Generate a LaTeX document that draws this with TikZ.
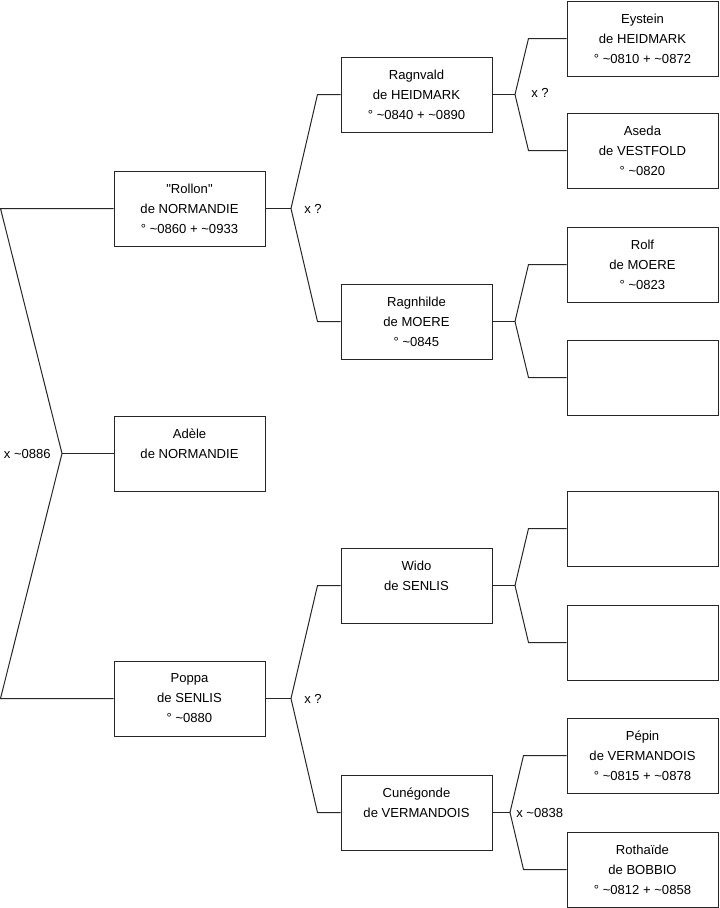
\documentclass[tikz,border=0pt]{standalone}
\usepackage{fontspec}
\setmainfont{Liberation Sans}
\begin{document}
\begin{tikzpicture}[x=0.75pt,y=-0.75pt,
  person/.style={draw=black!85, line width=0.75pt, fill=white, inner sep=0pt,
    minimum width=113.25pt, minimum height=56.25pt, align=center,
    font=\fontsize{9.8}{15}\selectfont},
  link/.style={draw=black!85, line width=0.75pt},
  lbl/.style={inner sep=0pt, font=\fontsize{9.8}{12}\selectfont}]
\useasboundingbox (0,0) rectangle (719,908);
% column 1
\node[person] (rollon) at (189.5,208.5) {\textquotedbl Rollon\textquotedbl\\de NORMANDIE\\° \textasciitilde0860 + \textasciitilde0933};
\node[person] (adele) at (189.5,453.5) {Adèle\\de NORMANDIE\\\phantom{X}};
\node[person] (poppa) at (189.5,698.5) {Poppa\\de SENLIS\\° \textasciitilde0880};
% column 2
\node[person] (ragnvald) at (416.5,94.5) {Ragnvald\\de HEIDMARK\\° \textasciitilde0840 + \textasciitilde0890};
\node[person] (ragnhilde) at (416.5,321.5) {Ragnhilde\\de MOERE\\° \textasciitilde0845};
\node[person] (wido) at (416.5,585.5) {Wido\\de SENLIS\\\phantom{X}};
\node[person] (cune) at (416.5,812.5) {Cunégonde\\de VERMANDOIS\\\phantom{X}};
% column 3
\node[person] (eystein) at (642.5,38.5) {Eystein\\de HEIDMARK\\° \textasciitilde0810 + \textasciitilde0872};
\node[person] (aseda) at (642.5,150.5) {Aseda\\de VESTFOLD\\° \textasciitilde0820};
\node[person] (rolf) at (642.5,264.5) {Rolf\\de MOERE\\° \textasciitilde0823};
\node[person] (emptya) at (642.5,377.5) {};
\node[person] (emptyb) at (642.5,528.5) {};
\node[person] (emptyc) at (642.5,642.5) {};
\node[person] (pepin) at (642.5,755.5) {Pépin\\de VERMANDOIS\\° \textasciitilde0815 + \textasciitilde0878};
\node[person] (roth) at (642.5,869.5) {Rothaïde\\de BOBBIO\\° \textasciitilde0812 + \textasciitilde0858};
% joints
\coordinate (L1) at (0.5,208.5);
\coordinate (L2) at (62,453.5);
\coordinate (L3) at (0.5,698.5);
\coordinate (J1) at (291,208.5);
\coordinate (J2) at (515,94.5);
\coordinate (J3) at (515,321.5);
\coordinate (J4) at (291,698.5);
\coordinate (J5) at (515,585.5);
\coordinate (J6) at (510,812.5);
% connectors
\draw[link] (rollon.west) -- (L1) -- (L2) -- (L3) -- (poppa.west);
\draw[link] (L2) -- (adele.west);
\draw[link] (rollon.east) -- (J1);
\draw[link] (ragnvald.west) -- ++(-23,0) -- (J1) -- ([xshift=-17.25pt]ragnhilde.west) -- (ragnhilde.west);
\draw[link] (ragnvald.east) -- (J2);
\draw[link] (eystein.west) -- ++(-38,0) -- (J2) -- ([xshift=-28.5pt]aseda.west) -- (aseda.west);
\draw[link] (ragnhilde.east) -- (J3);
\draw[link] (rolf.west) -- ++(-38,0) -- (J3) -- ([xshift=-28.5pt]emptya.west) -- (emptya.west);
\draw[link] (poppa.east) -- (J4);
\draw[link] (wido.west) -- ++(-23,0) -- (J4) -- ([xshift=-17.25pt]cune.west) -- (cune.west);
\draw[link] (wido.east) -- (J5);
\draw[link] (emptyb.west) -- ++(-38,0) -- (J5) -- ([xshift=-28.5pt]emptyc.west) -- (emptyc.west);
\draw[link] (cune.east) -- (J6);
\draw[link] (pepin.west) -- ++(-43,0) -- (J6) -- ([xshift=-32.25pt]roth.west) -- (roth.west);
% labels
\node[lbl, anchor=east] (m1) at (51,453.5) {x \textasciitilde0886};
\node[lbl, anchor=west] (m2) at (304,208.5) {x ?};
\node[lbl, anchor=west] (m3) at (531,93) {x ?};
\node[lbl, anchor=west] (m4) at (304,698.5) {x ?};
\node[lbl, anchor=west] (m5) at (516,812.5) {x \textasciitilde0838};
\end{tikzpicture}
\end{document}
